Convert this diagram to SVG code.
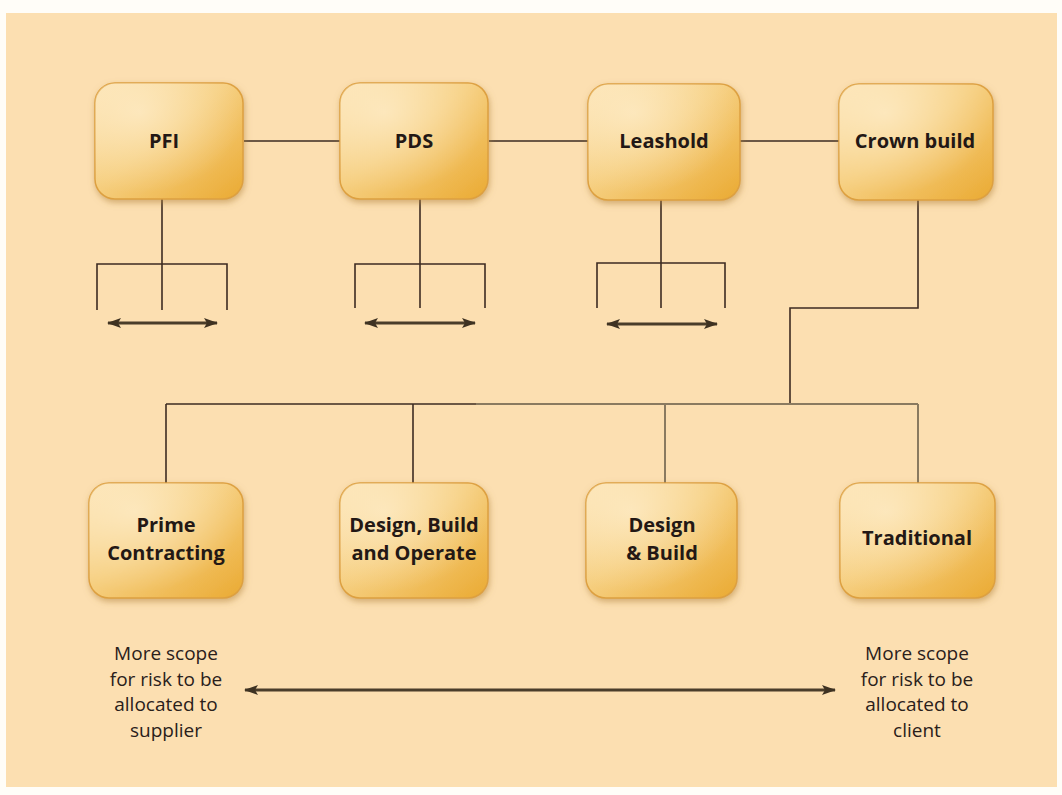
<svg xmlns="http://www.w3.org/2000/svg" width="1062" height="795" viewBox="0 0 1062 795">
<defs>
  <linearGradient id="boxg" x1="0" y1="0" x2="1" y2="1">
    <stop offset="0" stop-color="#FCE2B0"/>
    <stop offset="0.45" stop-color="#F6CF80"/>
    <stop offset="1" stop-color="#EAAA32"/>
  </linearGradient>
  <radialGradient id="hl" cx="0.3" cy="0.25" r="0.7">
    <stop offset="0" stop-color="#FFF0D2" stop-opacity="0.65"/>
    <stop offset="1" stop-color="#FFF0D2" stop-opacity="0"/>
  </radialGradient>
  <filter id="sh" x="-20%" y="-20%" width="140%" height="140%">
    <feDropShadow dx="1" dy="3" stdDeviation="3" flood-color="#B0823A" flood-opacity="0.55"/>
  </filter>
  <marker id="ah" viewBox="0 0 14 10" refX="13" refY="5" markerWidth="14" markerHeight="10" markerUnits="userSpaceOnUse" orient="auto-start-reverse">
    <path d="M0,0 L14,5 L0,10 L3,5 z" fill="#3E3222"/>
  </marker>
</defs>
<style>
  .box { fill: url(#boxg); stroke: #DDA040; stroke-width: 1.5; filter: url(#sh); }
  .hl { fill: url(#hl); }
  .lbl { font-family: "Open Sans", "Liberation Sans", sans-serif; font-weight: bold; font-size: 20px; fill: #231815; text-anchor: middle; }
  .note { font-family: "Open Sans", "Liberation Sans", sans-serif; font-size: 19px; fill: #2A201A; text-anchor: middle; }
  .ln { stroke: #3D2B22; stroke-width: 1.6; fill: none; }
  .lg { stroke: #8A7A60; stroke-width: 2; fill: none; }
  .arr { stroke: #4A3D2A; stroke-width: 3; fill: none; marker-start: url(#ah); marker-end: url(#ah); }
</style>
<rect x="0" y="0" width="1062" height="795" fill="#FFFDF8"/>
<rect x="6" y="13" width="1051" height="774" fill="#FCDFB1"/>

<g id="connectors">
  <line class="ln" x1="244" y1="141" x2="340" y2="141"/>
  <line class="ln" x1="489" y1="141" x2="588" y2="141"/>
  <line class="ln" x1="740" y1="141" x2="840" y2="141"/>
  <line class="ln" x1="162" y1="198" x2="162" y2="310"/>
  <polyline class="ln" points="97,310 97,264 227,264 227,310"/>
  <line class="arr" x1="108" y1="323" x2="217" y2="323"/>
  <line class="ln" x1="420" y1="198" x2="420" y2="308"/>
  <polyline class="ln" points="355,308 355,264 485,264 485,308"/>
  <line class="arr" x1="365" y1="323" x2="475" y2="323"/>
  <line class="ln" x1="661" y1="198" x2="661" y2="308"/>
  <polyline class="ln" points="597,308 597,263 725,263 725,308"/>
  <line class="arr" x1="607" y1="324" x2="717" y2="324"/>
  <polyline class="ln" points="918,198 918,308 790,308 790,404"/>
  <line class="ln" x1="166" y1="404" x2="476" y2="404"/>
  <line class="lg" x1="476" y1="404" x2="918" y2="404"/>
  <line class="ln" x1="166" y1="404" x2="166" y2="484"/>
  <line class="ln" x1="413" y1="404" x2="413" y2="484"/>
  <line class="lg" x1="665" y1="404" x2="665" y2="484"/>
  <line class="lg" x1="918" y1="404" x2="918" y2="484"/>
  <line class="arr" x1="245" y1="690" x2="835" y2="690"/>
</g>

<g id="pfi">
  <rect class="box" x="95" y="83" width="148" height="116" rx="20"/>
  <rect class="hl" x="95" y="83" width="148" height="116" rx="20"/>
  <text class="lbl" x="164" y="148">PFI</text>
</g>
<g id="pds">
  <rect class="box" x="340" y="83" width="148" height="116" rx="20"/>
  <rect class="hl" x="340" y="83" width="148" height="116" rx="20"/>
  <text class="lbl" x="414" y="148">PDS</text>
</g>
<g id="leashold">
  <rect class="box" x="588" y="84" width="152" height="116" rx="20"/>
  <rect class="hl" x="588" y="84" width="152" height="116" rx="20"/>
  <text class="lbl" x="664" y="148">Leashold</text>
</g>
<g id="crown-build">
  <rect class="box" x="839" y="84" width="154" height="116" rx="20"/>
  <rect class="hl" x="839" y="84" width="154" height="116" rx="20"/>
  <text class="lbl" x="915" y="148">Crown build</text>
</g>

<g id="prime-contracting">
  <rect class="box" x="89" y="483" width="154" height="115" rx="20"/>
  <rect class="hl" x="89" y="483" width="154" height="115" rx="20"/>
  <text class="lbl" x="166" y="532">Prime</text>
  <text class="lbl" x="166" y="560">Contracting</text>
</g>
<g id="design-build-operate">
  <rect class="box" x="340" y="483" width="148" height="115" rx="20"/>
  <rect class="hl" x="340" y="483" width="148" height="115" rx="20"/>
  <text class="lbl" x="414" y="532">Design, Build</text>
  <text class="lbl" x="414" y="560">and Operate</text>
</g>
<g id="design-and-build">
  <rect class="box" x="586" y="483" width="151" height="115" rx="20"/>
  <rect class="hl" x="586" y="483" width="151" height="115" rx="20"/>
  <text class="lbl" x="662" y="532">Design</text>
  <text class="lbl" x="662" y="560">&amp; Build</text>
</g>
<g id="traditional">
  <rect class="box" x="840" y="483" width="155" height="115" rx="20"/>
  <rect class="hl" x="840" y="483" width="155" height="115" rx="20"/>
  <text class="lbl" x="917" y="545">Traditional</text>
</g>

<g id="note-supplier">
  <text class="note" x="166" y="660">More scope</text>
  <text class="note" x="166" y="686">for risk to be</text>
  <text class="note" x="166" y="711">allocated to</text>
  <text class="note" x="166" y="737">supplier</text>
</g>
<g id="note-client">
  <text class="note" x="917" y="660">More scope</text>
  <text class="note" x="917" y="686">for risk to be</text>
  <text class="note" x="917" y="711">allocated to</text>
  <text class="note" x="917" y="737">client</text>
</g>
</svg>
